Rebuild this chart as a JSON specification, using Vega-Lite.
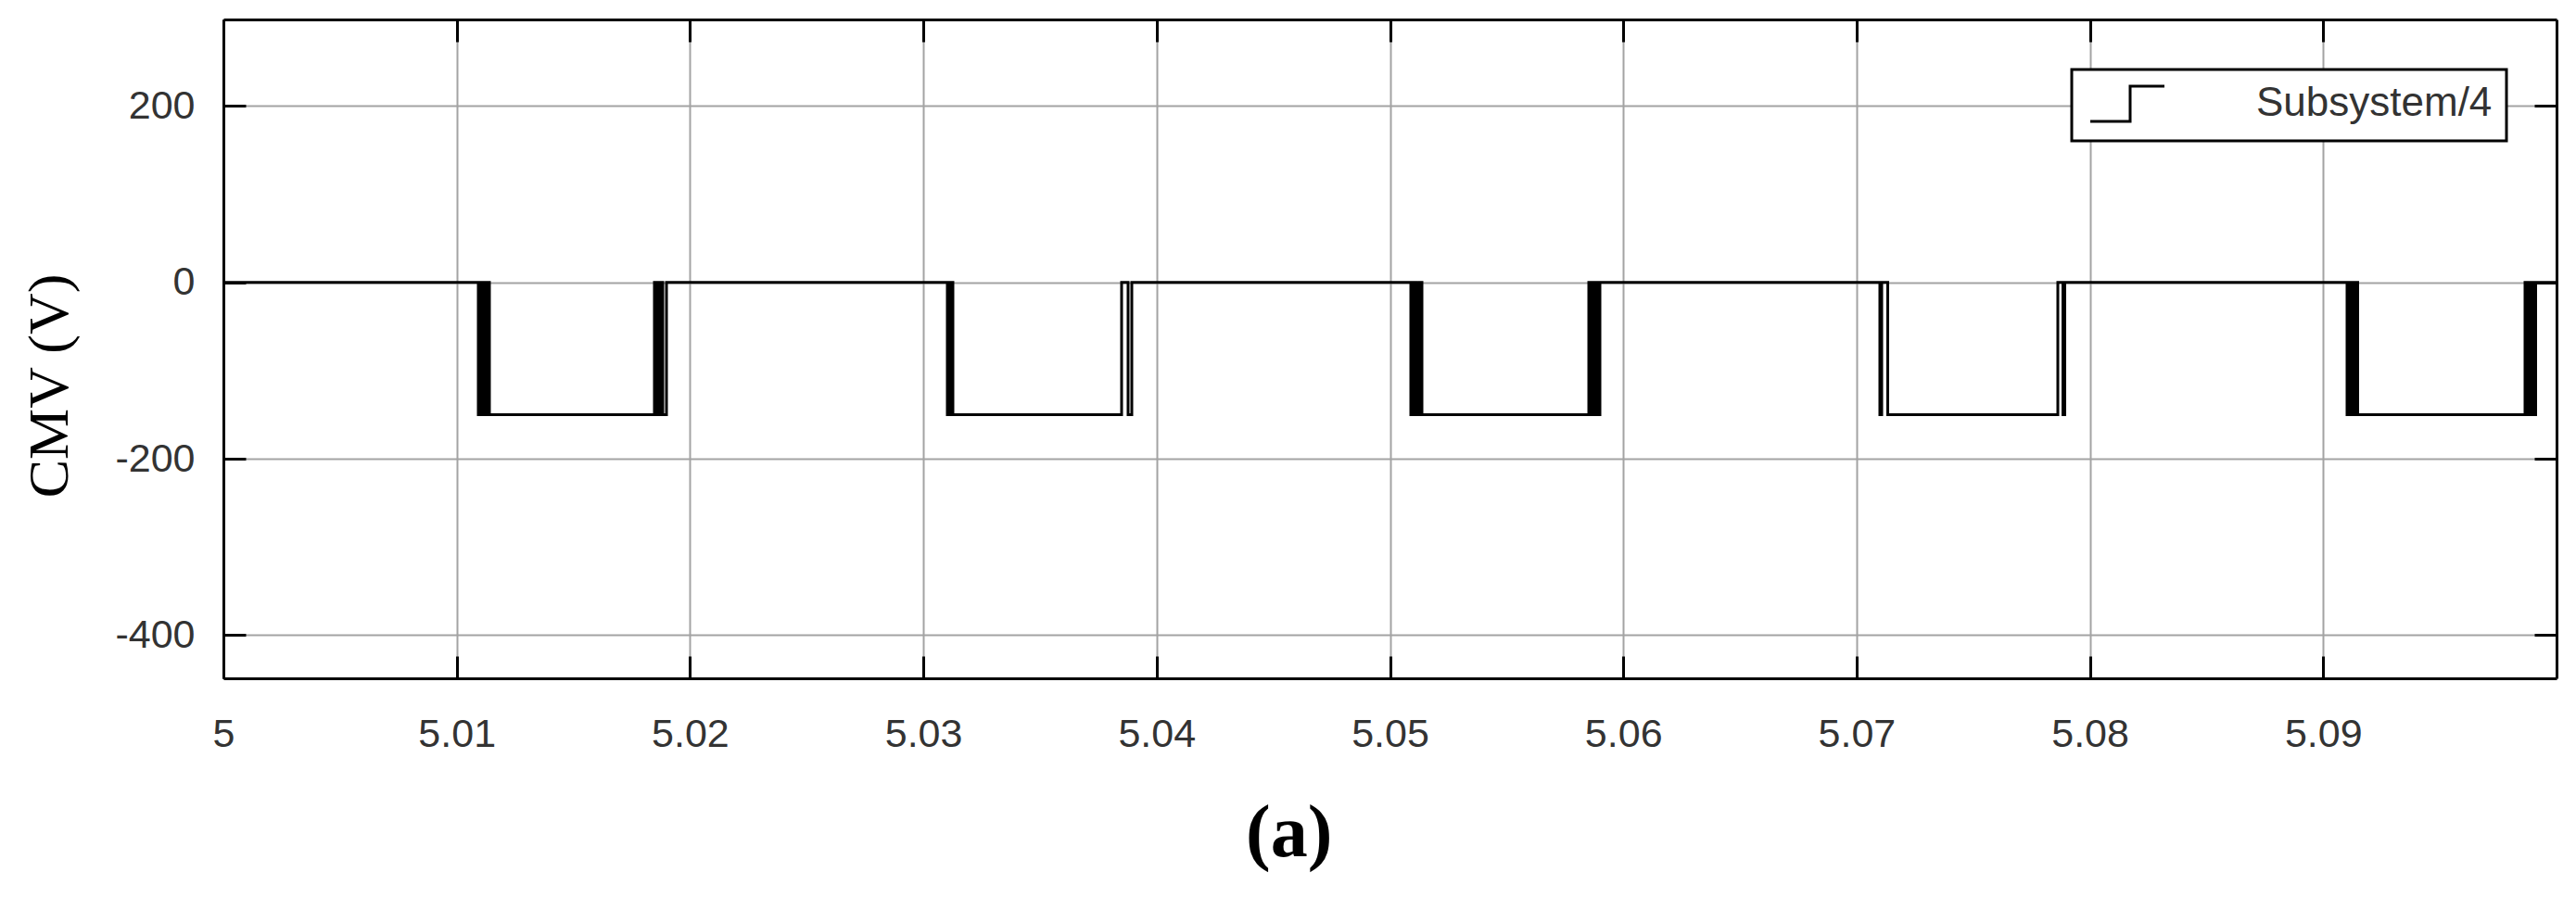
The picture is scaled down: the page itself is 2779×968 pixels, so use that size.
{
  "$schema": "https://vega.github.io/schema/vega-lite/v6.json",
  "autosize": {"type": "none"},
  "padding": {"left": 241, "top": 21, "right": 21, "bottom": 236},
  "width": 2517,
  "height": 711,
  "background": "white",
  "title": {
    "text": "(a)",
    "orient": "bottom",
    "frame": "bounds",
    "anchor": "middle",
    "font": "Liberation Serif",
    "fontSize": 80,
    "fontWeight": "bold",
    "color": "black",
    "baseline": "top",
    "offset": 47
  },
  "data": {
    "values": [
      {"t": 5.0, "v": 0},
      {"t": 5.010926, "v": -150},
      {"t": 5.011045, "v": 0},
      {"t": 5.011164, "v": -150},
      {"t": 5.011283, "v": 0},
      {"t": 5.011402, "v": -150},
      {"t": 5.018474, "v": 0},
      {"t": 5.018594, "v": -150},
      {"t": 5.018713, "v": 0},
      {"t": 5.018832, "v": -150},
      {"t": 5.018991, "v": 0},
      {"t": 5.031029, "v": -150},
      {"t": 5.031148, "v": 0},
      {"t": 5.031267, "v": -150},
      {"t": 5.038498, "v": 0},
      {"t": 5.038776, "v": -150},
      {"t": 5.038935, "v": 0},
      {"t": 5.050894, "v": -150},
      {"t": 5.051013, "v": 0},
      {"t": 5.051132, "v": -150},
      {"t": 5.051252, "v": 0},
      {"t": 5.051371, "v": -150},
      {"t": 5.058522, "v": 0},
      {"t": 5.058641, "v": -150},
      {"t": 5.05876, "v": 0},
      {"t": 5.05888, "v": -150},
      {"t": 5.058999, "v": 0},
      {"t": 5.070997, "v": -150},
      {"t": 5.071077, "v": 0},
      {"t": 5.071335, "v": -150},
      {"t": 5.078625, "v": 0},
      {"t": 5.078844, "v": -150},
      {"t": 5.078923, "v": 0},
      {"t": 5.091021, "v": -150},
      {"t": 5.09114, "v": 0},
      {"t": 5.091259, "v": -150},
      {"t": 5.091378, "v": 0},
      {"t": 5.091478, "v": -150},
      {"t": 5.098649, "v": 0},
      {"t": 5.098768, "v": -150},
      {"t": 5.098888, "v": 0},
      {"t": 5.099007, "v": -150},
      {"t": 5.099106, "v": 0},
      {"t": 5.1, "v": 0}
    ]
  },
  "layer": [
    {
      "mark": {"type": "line", "interpolate": "step-after", "strokeWidth": 3, "clip": true},
      "encoding": {
        "x": {
          "field": "t",
          "type": "quantitative",
          "scale": {"domain": [5, 5.1], "nice": false, "zero": false},
          "axis": {
            "orient": "bottom",
            "title": null,
            "values": [5, 5.01, 5.02, 5.03, 5.04, 5.05, 5.06, 5.07, 5.08, 5.09],
            "labelExpr": "'' + datum.value",
            "labelFlush": false,
            "labelOverlap": false,
            "labelPadding": 63,
            "grid": true
          }
        },
        "y": {
          "field": "v",
          "type": "quantitative",
          "scale": {"domain": [-449, 298], "nice": false, "zero": false},
          "axis": {
            "orient": "left",
            "title": "CMV (V)",
            "values": [-400, -200, 0, 200],
            "labelExpr": "'' + datum.value",
            "labelFlush": false,
            "labelOverlap": false,
            "labelPadding": 55,
            "grid": true,
            "titleFont": "Liberation Serif",
            "titleFontSize": 62,
            "titleFontWeight": "normal",
            "titleColor": "black",
            "titleAngle": -90,
            "titleAlign": "center",
            "titleBaseline": "alphabetic",
            "titleX": -169,
            "titleY": 395
          }
        },
        "color": {
          "datum": "Subsystem/4",
          "scale": {"range": ["black"]},
          "legend": {"title": null}
        }
      }
    },
    {
      "mark": {"type": "line", "interpolate": "step-after", "opacity": 0},
      "encoding": {
        "x": {
          "field": "t",
          "type": "quantitative",
          "axis": {
            "orient": "top",
            "title": null,
            "values": [5, 5.01, 5.02, 5.03, 5.04, 5.05, 5.06, 5.07, 5.08, 5.09],
            "labels": false,
            "grid": false
          }
        },
        "y": {
          "field": "v",
          "type": "quantitative",
          "axis": {
            "orient": "right",
            "title": null,
            "values": [-400, -200, 0, 200],
            "labels": false,
            "grid": false
          }
        }
      }
    }
  ],
  "resolve": {"axis": {"x": "independent", "y": "independent"}},
  "config": {
    "view": {"stroke": null},
    "axis": {
      "domainColor": "black",
      "domainWidth": 3,
      "tickColor": "black",
      "tickWidth": 3,
      "tickSize": -24,
      "gridColor": "#a3a3a3",
      "gridWidth": 2,
      "labelFont": "Liberation Sans",
      "labelFontSize": 43,
      "labelColor": "#333333"
    },
    "legend": {
      "orient": "top-right",
      "offset": 54,
      "padding": 15,
      "strokeColor": "black",
      "strokeWidth": 3,
      "fillColor": "white",
      "symbolType": "M-0.85,0.95H1.3V-0.95H3.15",
      "symbolSize": 1600,
      "symbolStrokeWidth": 3,
      "symbolFillColor": "transparent",
      "labelFont": "Liberation Sans",
      "labelFontSize": 44,
      "labelColor": "#333333",
      "labelOffset": 140,
      "labelLimit": 0
    }
  }
}
